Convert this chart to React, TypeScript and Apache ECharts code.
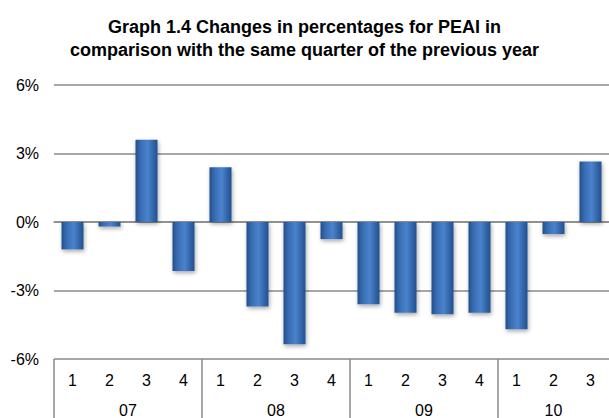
import React, { useEffect, useRef } from "react";
import * as echarts from "echarts";

const quarters = ["1", "2", "3", "4", "1", "2", "3", "4", "1", "2", "3", "4", "1", "2", "3"];
const values = [-1.2, -0.2, 3.6, -2.15, 2.4, -3.7, -5.35, -0.75, -3.6, -3.97, -4.04, -3.97, -4.7, -0.53, 2.65];
const years = ["07", "08", "09", "10"];
const yearCenters = [2, 6, 10, 13.5];
const yearBounds = [0, 4, 8, 12];
const yTicks = { min: -6, max: 6, interval: 3 };
const titleText = "Graph 1.4 Changes in percentages for PEAI in\ncomparison with the same quarter of the previous year";

const FONT = "'Liberation Sans', Arial, sans-serif";
const GRID_COLOR = "#8a8a8a";

export default function App() {
  const ref = useRef<HTMLDivElement>(null);
  useEffect(() => {
    if (!ref.current) return;
    const chart = echarts.init(ref.current, undefined, { renderer: "svg" });
    chart.setOption({
      animation: false,
      backgroundColor: "#ffffff",
      title: {
        text: titleText,
        left: "center",
        top: 10,
        textStyle: {
          fontFamily: FONT,
          fontSize: 18,
          fontWeight: "bold",
          color: "#000",
          lineHeight: 23,
        },
      },
      grid: { left: 54, top: 85, width: 561, bottom: 59 },
      xAxis: [
        {
          type: "category",
          data: quarters,
          position: "bottom",
          axisLine: { show: true, lineStyle: { color: GRID_COLOR, width: 1.5 } },
          axisTick: { show: false },
          axisLabel: { fontFamily: FONT, fontSize: 16, color: "#000", margin: 13, interval: 0 },
        },
        {
          type: "value",
          min: 0,
          max: quarters.length,
          position: "bottom",
          axisLine: { show: false },
          splitLine: { show: false },
          axisTick: {
            show: true,
            inside: false,
            length: 62,
            customValues: yearBounds,
            lineStyle: { color: GRID_COLOR, width: 1.5 },
          },
          axisLabel: {
            show: true,
            customValues: yearCenters,
            margin: 43,
            fontFamily: FONT,
            fontSize: 16,
            color: "#000",
            formatter: (v: number) => {
              const i = yearCenters.indexOf(v);
              return i >= 0 ? years[i] : "";
            },
          },
        },
      ],
      yAxis: {
        type: "value",
        min: yTicks.min,
        max: yTicks.max,
        interval: yTicks.interval,
        axisLine: { show: false },
        axisTick: { show: false },
        splitLine: { lineStyle: { color: GRID_COLOR, width: 1.5 } },
        axisLabel: {
          fontFamily: FONT,
          fontSize: 16,
          color: "#000",
          margin: 15,
          formatter: "{value}%",
        },
      },
      series: [
        {
          type: "bar",
          xAxisIndex: 0,
          data: values,
          barWidth: 22,
          itemStyle: {
            color: new echarts.graphic.LinearGradient(0, 0, 1, 0, [
              { offset: 0, color: "#244f8c" },
              { offset: 0.25, color: "#3a6fb5" },
              { offset: 0.55, color: "#4a82cc" },
              { offset: 1, color: "#22508f" },
            ]),
            shadowColor: "rgba(0,0,0,0.35)",
            shadowBlur: 4,
            shadowOffsetX: 1,
            shadowOffsetY: 2,
          },
        },
      ],
    });
    return () => chart.dispose();
  }, []);
  return (
    <div
      ref={ref}
      style={{ position: "fixed", left: 0, top: 0, width: 609, height: 418, background: "#fff" }}
    />
  );
}
